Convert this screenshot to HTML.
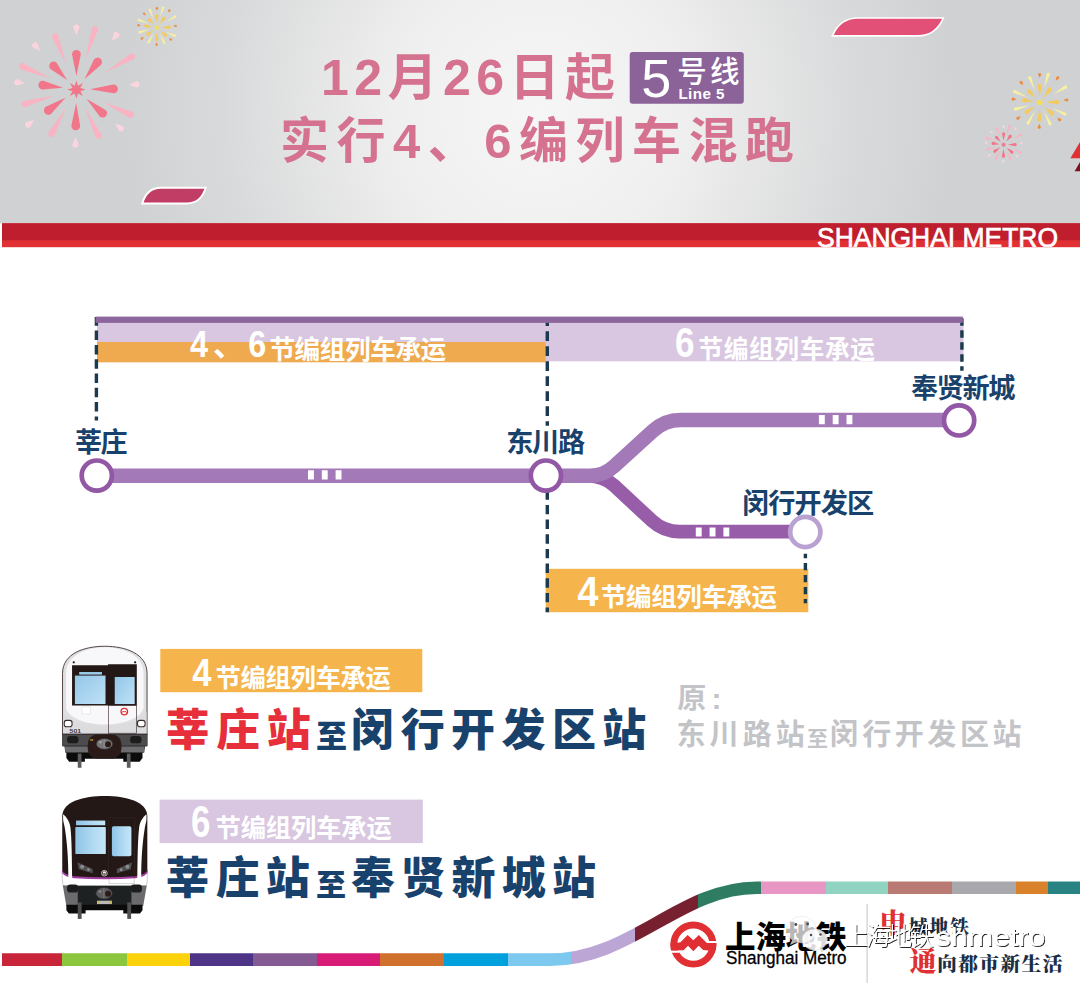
<!DOCTYPE html>
<html lang="zh-CN">
<head>
<meta charset="utf-8">
<title>上海地铁5号线 12月26日起实行4、6编列车混跑</title>
<style>
html,body{margin:0;padding:0;background:#fff;overflow:hidden;}
body{width:1080px;height:984px;overflow:hidden;position:relative;font-family:"Liberation Sans",sans-serif;}
#art{position:absolute;left:0;top:0;width:1080px;height:984px;overflow:hidden;}
#art svg{display:block;}
#art text{font-family:"Liberation Sans",sans-serif;}
#art text.cj{font-family:"Liberation Sans","Noto Sans CJK SC",sans-serif;}
#art text.sf{font-family:"Liberation Serif","Noto Serif CJK SC",serif;}
#tl{position:absolute;left:0;top:0;width:1080px;height:984px;overflow:hidden;}
#tl span{position:absolute;display:block;white-space:nowrap;overflow:hidden;line-height:1.2;color:transparent;font-family:"Liberation Sans",sans-serif;}
</style>
</head>
<body>
<div id="art">
<svg width="1080" height="984" viewBox="0 0 1080 984"><defs><radialGradient id="hdr" gradientUnits="userSpaceOnUse" cx="540" cy="112" r="420"><stop offset="0" stop-color="#f6f6f6"/><stop offset="0.35" stop-color="#efefef"/><stop offset="0.75" stop-color="#d9dadb"/><stop offset="1" stop-color="#d0d1d3"/></radialGradient><clipPath id="cbar"><rect x="0" y="223.3" width="1080" height="24"/></clipPath><linearGradient id="strip" gradientUnits="userSpaceOnUse" x1="0" y1="0" x2="1080" y2="0"><stop offset="0.00185" stop-color="#c8243a"/><stop offset="0.05787" stop-color="#c8243a"/><stop offset="0.05787" stop-color="#8cc63f"/><stop offset="0.11713" stop-color="#8cc63f"/><stop offset="0.11713" stop-color="#fcd20a"/><stop offset="0.17593" stop-color="#fcd20a"/><stop offset="0.17593" stop-color="#4d3487"/><stop offset="0.23472" stop-color="#4d3487"/><stop offset="0.23472" stop-color="#845a93"/><stop offset="0.29352" stop-color="#845a93"/><stop offset="0.29352" stop-color="#d81b77"/><stop offset="0.35231" stop-color="#d81b77"/><stop offset="0.35231" stop-color="#d0702d"/><stop offset="0.41111" stop-color="#d0702d"/><stop offset="0.41111" stop-color="#00a0dc"/><stop offset="0.47037" stop-color="#00a0dc"/><stop offset="0.47037" stop-color="#7dc8ef"/><stop offset="0.52852" stop-color="#7dc8ef"/><stop offset="0.52852" stop-color="#bba6d6"/><stop offset="0.58806" stop-color="#bba6d6"/><stop offset="0.58806" stop-color="#772030"/><stop offset="0.64648" stop-color="#772030"/><stop offset="0.64648" stop-color="#2e7d62"/><stop offset="0.70509" stop-color="#2e7d62"/><stop offset="0.70509" stop-color="#e896c3"/><stop offset="0.76444" stop-color="#e896c3"/><stop offset="0.76444" stop-color="#8fd3c0"/><stop offset="0.82250" stop-color="#8fd3c0"/><stop offset="0.82250" stop-color="#b87a72"/><stop offset="0.88167" stop-color="#b87a72"/><stop offset="0.88167" stop-color="#a9a9ad"/><stop offset="0.94074" stop-color="#a9a9ad"/><stop offset="0.94074" stop-color="#d9822b"/><stop offset="0.97019" stop-color="#d9822b"/><stop offset="0.97019" stop-color="#298383"/><stop offset="1.00000" stop-color="#298383"/></linearGradient><clipPath id="lclip"><circle cx="693.4" cy="944.6" r="23"/></clipPath><filter id="wsh" x="-5%" y="-20%" width="110%" height="150%"><feDropShadow dx="1" dy="1" stdDeviation="0.45" flood-color="#000" flood-opacity="0.85"/></filter><linearGradient id="tb1" x1="0" y1="0" x2="1" y2="0"><stop offset="0" stop-color="#d6d6d9"/><stop offset="0.18" stop-color="#ececee"/><stop offset="0.5" stop-color="#fbfbfc"/><stop offset="0.82" stop-color="#ececee"/><stop offset="1" stop-color="#d6d6d9"/></linearGradient><linearGradient id="win" x1="0" y1="0" x2="1" y2="1"><stop offset="0" stop-color="#93c6e8"/><stop offset="1" stop-color="#bfe2f7"/></linearGradient><linearGradient id="win2" x1="0" y1="0" x2="1" y2="0"><stop offset="0" stop-color="#8fc3e6"/><stop offset="0.45" stop-color="#a9d5f0"/><stop offset="1" stop-color="#c6e6f8"/></linearGradient></defs><rect x="0" y="0" width="1080" height="223.3" fill="url(#hdr)"/>
<rect x="2" y="223.3" width="1078" height="23.9" fill="#e03033"/>
<rect x="2" y="223.3" width="1078" height="17" fill="#be1e2d"/>
<text x="817" y="247.4" font-size="27" fill="#fff" stroke="#fff" stroke-width="0.7" textLength="241" lengthAdjust="spacingAndGlyphs" clip-path="url(#cbar)">SHANGHAI METRO</text>
<path d="M832.4 35.9Q840 18 858 18L943.3 18Q935.7 35.9 917.7 35.9Z" fill="#e25078" stroke="#fff" stroke-width="1.7"/>
<path d="M142.2 203.5Q147 187.8 161 187.8L205.7 187.8Q200.9 203.5 186.9 203.5Z" fill="#c23d65" stroke="#fff" stroke-width="1.9"/>
<path d="M1070.4 158.2L1080 142V158.2Z" fill="#e03033"/><path d="M1074.6 171.2L1080 162V171.2Z" fill="#7a141c"/>
<g transform="translate(76.4 89.6) scale(1.0000)"><polygon points="0,-9.2 1.65,-3.97 6.51,-6.51 3.97,-1.65 9.2,0 3.97,1.65 6.51,6.51 1.65,3.97 0,9.2 -1.65,3.97 -6.51,6.51 -3.97,1.65 -9.2,0 -3.97,-1.65 -6.51,-6.51 -1.65,-3.97" fill="#f2768a"/><g fill="#f2768a"><path d="M13.5 0L35.3 -4.4A4.4 4.4 0 1 1 35.3 4.4Z" transform="rotate(-90)"/><path d="M13.5 0L34.8 -4.4A4.4 4.4 0 1 1 34.8 4.4Z" transform="rotate(-52.5)"/><path d="M13.5 0L37.1 -4.4A4.4 4.4 0 1 1 37.1 4.4Z" transform="rotate(-1)"/><path d="M13.5 0L35.3 -4.4A4.4 4.4 0 1 1 35.3 4.4Z" transform="rotate(42)"/><path d="M13.5 0L36.3 -4.4A4.4 4.4 0 1 1 36.3 4.4Z" transform="rotate(91)"/><path d="M13.5 0L34.9 -4.4A4.4 4.4 0 1 1 34.9 4.4Z" transform="rotate(143.5)"/><path d="M13.5 0L33.9 -4.4A4.4 4.4 0 1 1 33.9 4.4Z" transform="rotate(187.7)"/><path d="M13.5 0L32.8 -4.4A4.4 4.4 0 1 1 32.8 4.4Z" transform="rotate(226)"/></g><g fill="#f9b3c2"><path d="M32 0L62.8 -3.2A3.2 3.2 0 1 1 62.8 3.2Z" transform="rotate(-73)"/><path d="M34 0L64.4 -3.2A3.2 3.2 0 1 1 64.4 3.2Z" transform="rotate(-30.8)"/><path d="M29.3 0L59.7 -3.2A3.2 3.2 0 1 1 59.7 3.2Z" transform="rotate(24.9)"/><path d="M20.5 0L51 -3.2A3.2 3.2 0 1 1 51 3.2Z" transform="rotate(64.4)"/><path d="M21.4 0L50.6 -3.2A3.2 3.2 0 1 1 50.6 3.2Z" transform="rotate(119.5)"/><path d="M23.2 0L53.8 -3.2A3.2 3.2 0 1 1 53.8 3.2Z" transform="rotate(164.5)"/><path d="M27.8 0L58.8 -3.2A3.2 3.2 0 1 1 58.8 3.2Z" transform="rotate(203.2)"/><path d="M27.4 0L57.1 -3.2A3.2 3.2 0 1 1 57.1 3.2Z" transform="rotate(248.2)"/></g><g fill="#fbd4dd"><path d="M54.5 0L61.9 -3.1A3.1 3.1 0 1 1 61.9 3.1Z" transform="rotate(-90)"/><path d="M60.1 0L67.5 -3.1A3.1 3.1 0 1 1 67.5 3.1Z" transform="rotate(-53.8)"/><path d="M52.8 0L60.2 -3.1A3.1 3.1 0 1 1 60.2 3.1Z" transform="rotate(-5)"/><path d="M51.5 0L58.9 -3.1A3.1 3.1 0 1 1 58.9 3.1Z" transform="rotate(41)"/><path d="M47.5 0L54.9 -3.1A3.1 3.1 0 1 1 54.9 3.1Z" transform="rotate(91)"/><path d="M52.2 0L59.6 -3.1A3.1 3.1 0 1 1 59.6 3.1Z" transform="rotate(144)"/><path d="M52 0L59.4 -3.1A3.1 3.1 0 1 1 59.4 3.1Z" transform="rotate(187)"/><path d="M52.9 0L60.3 -3.1A3.1 3.1 0 1 1 60.3 3.1Z" transform="rotate(227)"/></g></g>
<g transform="translate(156.9 27.5) scale(0.3345)"><polygon points="0,-9.2 1.65,-3.97 6.51,-6.51 3.97,-1.65 9.2,0 3.97,1.65 6.51,6.51 1.65,3.97 0,9.2 -1.65,3.97 -6.51,6.51 -3.97,1.65 -9.2,0 -3.97,-1.65 -6.51,-6.51 -1.65,-3.97" fill="#f7df4a"/><g fill="#f2cb60"><path d="M13.5 0L34.64 -5.06A5.06 5.06 0 1 1 34.64 5.06Z" transform="rotate(-90)"/><path d="M13.5 0L34.14 -5.06A5.06 5.06 0 1 1 34.14 5.06Z" transform="rotate(-52.5)"/><path d="M13.5 0L36.44 -5.06A5.06 5.06 0 1 1 36.44 5.06Z" transform="rotate(-1)"/><path d="M13.5 0L34.64 -5.06A5.06 5.06 0 1 1 34.64 5.06Z" transform="rotate(42)"/><path d="M13.5 0L35.64 -5.06A5.06 5.06 0 1 1 35.64 5.06Z" transform="rotate(91)"/><path d="M13.5 0L34.24 -5.06A5.06 5.06 0 1 1 34.24 5.06Z" transform="rotate(143.5)"/><path d="M13.5 0L33.24 -5.06A5.06 5.06 0 1 1 33.24 5.06Z" transform="rotate(187.7)"/><path d="M13.5 0L32.14 -5.06A5.06 5.06 0 1 1 32.14 5.06Z" transform="rotate(226)"/></g><g fill="#f6f0a0"><path d="M32 0L62.32 -3.68A3.68 3.68 0 1 1 62.32 3.68Z" transform="rotate(-73)"/><path d="M34 0L63.92 -3.68A3.68 3.68 0 1 1 63.92 3.68Z" transform="rotate(-30.8)"/><path d="M29.3 0L59.22 -3.68A3.68 3.68 0 1 1 59.22 3.68Z" transform="rotate(24.9)"/><path d="M20.5 0L50.52 -3.68A3.68 3.68 0 1 1 50.52 3.68Z" transform="rotate(64.4)"/><path d="M21.4 0L50.12 -3.68A3.68 3.68 0 1 1 50.12 3.68Z" transform="rotate(119.5)"/><path d="M23.2 0L53.32 -3.68A3.68 3.68 0 1 1 53.32 3.68Z" transform="rotate(164.5)"/><path d="M27.8 0L58.32 -3.68A3.68 3.68 0 1 1 58.32 3.68Z" transform="rotate(203.2)"/><path d="M27.4 0L56.62 -3.68A3.68 3.68 0 1 1 56.62 3.68Z" transform="rotate(248.2)"/></g><g fill="#ee8b3a"><path d="M50.9 0L57.84 -3.56A3.56 3.56 0 1 1 57.84 3.56Z" transform="rotate(-90)"/><path d="M56.16 0L63.1 -3.56A3.56 3.56 0 1 1 63.1 3.56Z" transform="rotate(-53.8)"/><path d="M49.3 0L56.24 -3.56A3.56 3.56 0 1 1 56.24 3.56Z" transform="rotate(-5)"/><path d="M48.08 0L55.02 -3.56A3.56 3.56 0 1 1 55.02 3.56Z" transform="rotate(41)"/><path d="M44.32 0L51.26 -3.56A3.56 3.56 0 1 1 51.26 3.56Z" transform="rotate(91)"/><path d="M48.74 0L55.67 -3.56A3.56 3.56 0 1 1 55.67 3.56Z" transform="rotate(144)"/><path d="M48.55 0L55.48 -3.56A3.56 3.56 0 1 1 55.48 3.56Z" transform="rotate(187)"/><path d="M49.4 0L56.33 -3.56A3.56 3.56 0 1 1 56.33 3.56Z" transform="rotate(227)"/></g></g>
<g transform="translate(1039.7 102.4) scale(0.4690)"><polygon points="0,-9.2 1.65,-3.97 6.51,-6.51 3.97,-1.65 9.2,0 3.97,1.65 6.51,6.51 1.65,3.97 0,9.2 -1.65,3.97 -6.51,6.51 -3.97,1.65 -9.2,0 -3.97,-1.65 -6.51,-6.51 -1.65,-3.97" fill="#f7df4a"/><g fill="#f2cb60"><path d="M13.5 0L34.95 -4.75A4.75 4.75 0 1 1 34.95 4.75Z" transform="rotate(-90)"/><path d="M13.5 0L34.45 -4.75A4.75 4.75 0 1 1 34.45 4.75Z" transform="rotate(-52.5)"/><path d="M13.5 0L36.75 -4.75A4.75 4.75 0 1 1 36.75 4.75Z" transform="rotate(-1)"/><path d="M13.5 0L34.95 -4.75A4.75 4.75 0 1 1 34.95 4.75Z" transform="rotate(42)"/><path d="M13.5 0L35.95 -4.75A4.75 4.75 0 1 1 35.95 4.75Z" transform="rotate(91)"/><path d="M13.5 0L34.55 -4.75A4.75 4.75 0 1 1 34.55 4.75Z" transform="rotate(143.5)"/><path d="M13.5 0L33.55 -4.75A4.75 4.75 0 1 1 33.55 4.75Z" transform="rotate(187.7)"/><path d="M13.5 0L32.45 -4.75A4.75 4.75 0 1 1 32.45 4.75Z" transform="rotate(226)"/></g><g fill="#f6f0a0"><path d="M32 0L62.54 -3.46A3.46 3.46 0 1 1 62.54 3.46Z" transform="rotate(-73)"/><path d="M34 0L64.14 -3.46A3.46 3.46 0 1 1 64.14 3.46Z" transform="rotate(-30.8)"/><path d="M29.3 0L59.44 -3.46A3.46 3.46 0 1 1 59.44 3.46Z" transform="rotate(24.9)"/><path d="M20.5 0L50.74 -3.46A3.46 3.46 0 1 1 50.74 3.46Z" transform="rotate(64.4)"/><path d="M21.4 0L50.34 -3.46A3.46 3.46 0 1 1 50.34 3.46Z" transform="rotate(119.5)"/><path d="M23.2 0L53.54 -3.46A3.46 3.46 0 1 1 53.54 3.46Z" transform="rotate(164.5)"/><path d="M27.8 0L58.54 -3.46A3.46 3.46 0 1 1 58.54 3.46Z" transform="rotate(203.2)"/><path d="M27.4 0L56.84 -3.46A3.46 3.46 0 1 1 56.84 3.46Z" transform="rotate(248.2)"/></g><g fill="#ee8b3a"><path d="M52.4 0L59.55 -3.35A3.35 3.35 0 1 1 59.55 3.35Z" transform="rotate(-90)"/><path d="M57.8 0L64.96 -3.35A3.35 3.35 0 1 1 64.96 3.35Z" transform="rotate(-53.8)"/><path d="M50.76 0L57.91 -3.35A3.35 3.35 0 1 1 57.91 3.35Z" transform="rotate(-5)"/><path d="M49.5 0L56.66 -3.35A3.35 3.35 0 1 1 56.66 3.35Z" transform="rotate(41)"/><path d="M45.64 0L52.8 -3.35A3.35 3.35 0 1 1 52.8 3.35Z" transform="rotate(91)"/><path d="M50.18 0L57.33 -3.35A3.35 3.35 0 1 1 57.33 3.35Z" transform="rotate(144)"/><path d="M49.99 0L57.14 -3.35A3.35 3.35 0 1 1 57.14 3.35Z" transform="rotate(187)"/><path d="M50.86 0L58.01 -3.35A3.35 3.35 0 1 1 58.01 3.35Z" transform="rotate(227)"/></g></g>
<g transform="translate(1003.6 144.8) scale(0.3172)"><polygon points="0,-9.2 1.65,-3.97 6.51,-6.51 3.97,-1.65 9.2,0 3.97,1.65 6.51,6.51 1.65,3.97 0,9.2 -1.65,3.97 -6.51,6.51 -3.97,1.65 -9.2,0 -3.97,-1.65 -6.51,-6.51 -1.65,-3.97" fill="#f2768a"/><g fill="#f2768a"><path d="M13.5 0L34.64 -5.06A5.06 5.06 0 1 1 34.64 5.06Z" transform="rotate(-90)"/><path d="M13.5 0L34.14 -5.06A5.06 5.06 0 1 1 34.14 5.06Z" transform="rotate(-52.5)"/><path d="M13.5 0L36.44 -5.06A5.06 5.06 0 1 1 36.44 5.06Z" transform="rotate(-1)"/><path d="M13.5 0L34.64 -5.06A5.06 5.06 0 1 1 34.64 5.06Z" transform="rotate(42)"/><path d="M13.5 0L35.64 -5.06A5.06 5.06 0 1 1 35.64 5.06Z" transform="rotate(91)"/><path d="M13.5 0L34.24 -5.06A5.06 5.06 0 1 1 34.24 5.06Z" transform="rotate(143.5)"/><path d="M13.5 0L33.24 -5.06A5.06 5.06 0 1 1 33.24 5.06Z" transform="rotate(187.7)"/><path d="M13.5 0L32.14 -5.06A5.06 5.06 0 1 1 32.14 5.06Z" transform="rotate(226)"/></g><g fill="#f9b3c2"><path d="M32 0L62.32 -3.68A3.68 3.68 0 1 1 62.32 3.68Z" transform="rotate(-73)"/><path d="M34 0L63.92 -3.68A3.68 3.68 0 1 1 63.92 3.68Z" transform="rotate(-30.8)"/><path d="M29.3 0L59.22 -3.68A3.68 3.68 0 1 1 59.22 3.68Z" transform="rotate(24.9)"/><path d="M20.5 0L50.52 -3.68A3.68 3.68 0 1 1 50.52 3.68Z" transform="rotate(64.4)"/><path d="M21.4 0L50.12 -3.68A3.68 3.68 0 1 1 50.12 3.68Z" transform="rotate(119.5)"/><path d="M23.2 0L53.32 -3.68A3.68 3.68 0 1 1 53.32 3.68Z" transform="rotate(164.5)"/><path d="M27.8 0L58.32 -3.68A3.68 3.68 0 1 1 58.32 3.68Z" transform="rotate(203.2)"/><path d="M27.4 0L56.62 -3.68A3.68 3.68 0 1 1 56.62 3.68Z" transform="rotate(248.2)"/></g><g fill="#fbd4dd"><path d="M51.5 0L58.44 -3.56A3.56 3.56 0 1 1 58.44 3.56Z" transform="rotate(-90)"/><path d="M56.82 0L63.75 -3.56A3.56 3.56 0 1 1 63.75 3.56Z" transform="rotate(-53.8)"/><path d="M49.88 0L56.82 -3.56A3.56 3.56 0 1 1 56.82 3.56Z" transform="rotate(-5)"/><path d="M48.65 0L55.59 -3.56A3.56 3.56 0 1 1 55.59 3.56Z" transform="rotate(41)"/><path d="M44.85 0L51.78 -3.56A3.56 3.56 0 1 1 51.78 3.56Z" transform="rotate(91)"/><path d="M49.31 0L56.25 -3.56A3.56 3.56 0 1 1 56.25 3.56Z" transform="rotate(144)"/><path d="M49.12 0L56.06 -3.56A3.56 3.56 0 1 1 56.06 3.56Z" transform="rotate(187)"/><path d="M49.98 0L56.91 -3.56A3.56 3.56 0 1 1 56.91 3.56Z" transform="rotate(227)"/></g></g>
<text class="cj" x="321" y="94.5" font-size="50" font-weight="700" fill="#d5728f" textLength="294" lengthAdjust="spacing">12月26日起</text>
<text class="cj" x="280" y="158.1" font-size="49" font-weight="700" fill="#d5728f" textLength="514" lengthAdjust="spacing">实行4、6编列车混跑</text>
<rect x="629.7" y="52.1" width="114.1" height="51.6" rx="3" fill="#8b6399"/>
<text x="641.3" y="96.9" font-size="54" fill="#fff">5</text>
<text class="cj" x="677.2" y="82.3" font-size="29.5" font-weight="500" fill="#fff" textLength="62.4" lengthAdjust="spacing">号线</text>
<text x="678.4" y="98.9" font-size="15.2" font-weight="700" letter-spacing="0.42" fill="#fff">Line 5</text>
<rect x="97" y="322" width="866.5" height="39.3" fill="#d9c6e0"/>
<rect x="97" y="342" width="448.6" height="20.3" fill="#efa94f"/>
<rect x="545.7" y="568.8" width="262.6" height="43.4" fill="#f5b54c"/>
<path d="M96.4 316.9V420.4" stroke="#1b3a50" stroke-width="3.4" stroke-dasharray="9.5 4.8" stroke-dashoffset="0.6" fill="none"/>
<path d="M547.3 316.9V425.8" stroke="#1b3a50" stroke-width="3.4" stroke-dasharray="9.6 5.4" stroke-dashoffset="0.6" fill="none"/>
<path d="M547.3 490.25V612.3" stroke="#1b3a50" stroke-width="3.4" stroke-dasharray="9.4 5.27" stroke-dashoffset="0" fill="none"/>
<path d="M961.9 318.2V370.7" stroke="#1b3a50" stroke-width="3.4" stroke-dasharray="7.6 4.4" stroke-dashoffset="0" fill="none"/>
<path d="M805.4 553.8V603.3" stroke="#1b3a50" stroke-width="3.4" stroke-dasharray="7.4 4.6" stroke-dashoffset="2.9" fill="none"/>
<rect x="95.6" y="316.6" width="867.2" height="6.3" fill="#8c669c"/>
<path d="M588 475.8Q603.6 475.8 613.8 485.3L652 520.8Q663.6 531.6 679.6 531.6H805" fill="none" stroke="#985da8" stroke-width="13.7"/>
<path d="M96 475.8H590Q603.9 475.8 614.1 466.3L652.9 430.9Q664.6 420 680.6 420H959" fill="none" stroke="#a479b7" stroke-width="14.4"/>
<path d="M308 470.3h5.9v9.2h-5.9zm13.8 0h5.9v9.2h-5.9zm13.8 0h5.9v9.2h-5.9z" fill="#fff"/>
<path d="M818.9 415.1h5.9v9.2h-5.9zm13.8 0h5.9v9.2h-5.9zm13.8 0h5.9v9.2h-5.9z" fill="#fff"/>
<path d="M695.8 527.4h5.9v9.2h-5.9zm13.8 0h5.9v9.2h-5.9zm13.8 0h5.9v9.2h-5.9z" fill="#fff"/>
<circle cx="96.8" cy="475.6" r="15.1" fill="#fff" stroke="#9258a6" stroke-width="4.7"/>
<circle cx="545.9" cy="475.6" r="15.1" fill="#fff" stroke="#9258a6" stroke-width="4.7"/>
<circle cx="959.1" cy="420.4" r="15.1" fill="#fff" stroke="#9258a6" stroke-width="4.7"/>
<circle cx="805.3" cy="532" r="15.1" fill="#fff" stroke="#b9a2d2" stroke-width="4.7"/>
<text class="cj" x="75.1" y="451.7" font-size="27.2" font-weight="700" fill="#18426c" textLength="52.5" lengthAdjust="spacing">莘庄</text>
<text class="cj" x="506.2" y="451.7" font-size="27.2" font-weight="700" fill="#18426c" textLength="79" lengthAdjust="spacing">东川路</text>
<text class="cj" x="911.1" y="398.2" font-size="27.2" font-weight="700" fill="#18426c" textLength="104.4" lengthAdjust="spacing">奉贤新城</text>
<text class="cj" x="741.9" y="512.5" font-size="27.2" font-weight="700" fill="#18426c" textLength="132.3" lengthAdjust="spacing">闵行开发区</text>
<text class="cj" x="190" y="357.3" font-size="37" font-weight="700" fill="#fff" textLength="18" lengthAdjust="spacingAndGlyphs">4</text>
<text class="cj" x="213" y="355.8" font-size="31" font-weight="700" fill="#fff">、</text>
<text class="cj" x="248.3" y="356.9" font-size="37" font-weight="700" fill="#fff" textLength="18" lengthAdjust="spacingAndGlyphs">6</text>
<text class="cj" x="269.4" y="358.9" font-size="25.6" font-weight="700" fill="#fff" textLength="176.8" lengthAdjust="spacing">节编组列车承运</text>
<text class="cj" x="675" y="356.6" font-size="42" font-weight="700" fill="#fff" textLength="19.5" lengthAdjust="spacingAndGlyphs">6</text>
<text class="cj" x="698.3" y="358.1" font-size="24.7" font-weight="700" fill="#fff" textLength="176.7" lengthAdjust="spacing">节编组列车承运</text>
<text class="cj" x="577.6" y="606.2" font-size="43" font-weight="700" fill="#fff" textLength="21" lengthAdjust="spacingAndGlyphs">4</text>
<text class="cj" x="601" y="606.4" font-size="25.5" font-weight="700" fill="#fff" textLength="176.1" lengthAdjust="spacing">节编组列车承运</text>
<rect x="160.3" y="648.9" width="262" height="43.3" fill="#f5b54c"/>
<text class="cj" x="192.3" y="685.6" font-size="39.5" font-weight="700" fill="#fff" textLength="19.2" lengthAdjust="spacingAndGlyphs">4</text>
<text class="cj" x="215.5" y="687" font-size="25.3" font-weight="700" fill="#fff" textLength="175.3" lengthAdjust="spacing">节编组列车承运</text>
<text class="cj" x="165.7" y="746.2" font-size="44" font-weight="900" fill="#e62f3b" textLength="145" lengthAdjust="spacing">莘庄站</text>
<text class="cj" x="316.1" y="746.9" font-size="31" font-weight="900" fill="#18426c">至</text>
<text class="cj" x="350.3" y="746.2" font-size="44" font-weight="900" fill="#18426c" textLength="296" lengthAdjust="spacing">闵行开发区站</text>
<text class="cj" x="677.3" y="709.2" font-size="29" font-weight="700" fill="#c3c4c7">原</text>
<text class="cj" x="711.6" y="709" font-size="30" font-weight="700" fill="#c3c4c7">:</text>
<text class="cj" x="676.4" y="745.3" font-size="29" font-weight="700" fill="#c3c4c7" textLength="128.4" lengthAdjust="spacing">东川路站</text>
<text class="cj" x="806.9" y="745.9" font-size="21" font-weight="700" fill="#c3c4c7">至</text>
<text class="cj" x="829.6" y="745.3" font-size="29" font-weight="700" fill="#c3c4c7" textLength="191.9" lengthAdjust="spacing">闵行开发区站</text>
<rect x="159.6" y="799.6" width="263.2" height="43.5" fill="#d9c6e0"/>
<text class="cj" x="191" y="837" font-size="44" font-weight="700" fill="#fff" textLength="19.4" lengthAdjust="spacingAndGlyphs">6</text>
<text class="cj" x="215.5" y="837.1" font-size="25.3" font-weight="700" fill="#fff" textLength="176.2" lengthAdjust="spacing">节编组列车承运</text>
<text class="cj" x="165.6" y="894.3" font-size="44" font-weight="900" fill="#18426c" textLength="144.2" lengthAdjust="spacing">莘庄站</text>
<text class="cj" x="316.1" y="895" font-size="30" font-weight="900" fill="#18426c">至</text>
<text class="cj" x="351" y="894.3" font-size="44" font-weight="900" fill="#18426c" textLength="245" lengthAdjust="spacing">奉贤新城站</text>
<path d="M2 959.6H550.5C631 959.6 680.7 887.7 756.7 887.7H1081" fill="none" stroke="url(#strip)" stroke-width="12.6"/>
<circle cx="693.4" cy="944.6" r="19.6" fill="none" stroke="#e03033" stroke-width="6.8"/>
<path d="M669.76 942.86L678.05 942.86L680.49 942.37L687.64 934.89L693.33 940.34L698.86 934.89L706.83 943.02L716.91 943.02L716.91 950.5L707.97 950.5L703.09 950.02L698.7 945.87L693.33 951.32L688.05 945.87L683.58 950.18L669.76 950.5Z" fill="#e03033" clip-path="url(#lclip)"/>
<path d="M669.76 950.67L679.35 950.67L679.35 952.78L669.76 952.78Z" fill="#fff"/>
<path d="M708.62 940.99L717.32 940.99L717.32 943.02L708.62 943.02Z" fill="#fff"/>
<text class="cj" x="725.1" y="947.7" font-size="30.5" font-weight="900" fill="#000" textLength="121.5" lengthAdjust="spacing">上海地铁</text>
<text x="726" y="963.9" font-size="17.8" fill="#000" stroke="#000" stroke-width="0.3" textLength="120.6" lengthAdjust="spacingAndGlyphs">Shanghai Metro</text>
<path d="M867.1 903.8V983" stroke="#c4c4c4" stroke-width="1" fill="none"/>
<text class="sf" x="879.3" y="933.4" font-size="27.5" font-weight="900" fill="#e03033">申</text>
<text class="sf" x="908.7" y="934.3" font-size="18.8" font-weight="900" fill="#1a2e44" textLength="60.4" lengthAdjust="spacing">城地铁</text>
<text class="sf" x="909.4" y="971.3" font-size="27.5" font-weight="900" fill="#e03033">通</text>
<text class="sf" x="937.1" y="970.8" font-size="19.8" font-weight="900" fill="#1a2e44" textLength="125.4" lengthAdjust="spacing">向都市新生活</text>
<g opacity="0.72"><ellipse cx="801.4" cy="929.6" rx="14.7" ry="13.3" fill="#fff" stroke="#dcdcdc" stroke-width="0.6"/><path d="M792.5 939.5l-2.6 5.6 6.8-3.2z" fill="#fff"/></g><g opacity="0.86"><ellipse cx="814.8" cy="939.6" rx="12.6" ry="10.6" fill="#fff" stroke="#d4d4d4" stroke-width="0.6"/><path d="M822 948l3.4 4.4-7.4-1.7z" fill="#fff"/></g><g fill="#4a4a4a"><circle cx="795.8" cy="924.5" r="1.4"/><circle cx="807.6" cy="924" r="1.4"/><circle cx="811" cy="935" r="1.25"/><circle cx="820.5" cy="934.5" r="1.25"/></g>
<text class="cj" x="844" y="945.2" font-size="25" font-weight="300" fill="#fff" filter="url(#wsh)" textLength="89.9" lengthAdjust="spacing">上海地铁</text>
<text class="cj" x="935.6" y="945.8" font-size="25.3" font-weight="400" fill="#fff" filter="url(#wsh)" textLength="109.8" lengthAdjust="spacingAndGlyphs">shmetro</text>
<g transform="translate(50 640) scale(0.14231)"><path d="M88 745V235C88 95 240 44 385 44S682 95 682 235V745Z" fill="#dfdfe2" stroke="#4a3a38" stroke-width="6.5"/><path d="M113 480V235C113 112 250 51 385 51S657 112 657 235V480C640 548 520 594 385 594S130 548 113 480Z" fill="#f8f8fa"/><path d="M92 500V660H678V500C660 570 520 600 385 600S110 570 92 500Z" fill="#dcdcdf"/><path d="M155 178H408V171H610V460H155Z" fill="#231815"/><rect x="175" y="250" width="215" height="200" fill="url(#win)"/><rect x="205" y="225" width="160" height="18" fill="#9ccbea"/><rect x="455" y="260" width="140" height="190" fill="url(#win)"/><rect x="410" y="460" width="197" height="195" fill="none" stroke="#3a2c2a" stroke-width="4.5"/><rect x="225" y="470" width="60" height="50" fill="#fff" stroke="#cfcfd2" stroke-width="3"/><circle cx="522" cy="503" r="23" fill="#fff" stroke="#e03033" stroke-width="9"/><path d="M499 510h8l8-11 7 8 7-8 8 11h8" fill="none" stroke="#e03033" stroke-width="7"/><rect x="100" y="565" width="55" height="45" rx="16" fill="#fff" stroke="#3a2c2a" stroke-width="7.5"/><rect x="615" y="565" width="53" height="45" rx="16" fill="#fff" stroke="#3a2c2a" stroke-width="7.5"/><circle cx="167" cy="157" r="8" fill="#231815"/><circle cx="598" cy="157" r="8" fill="#231815"/><rect x="86" y="660" width="598" height="85" fill="#4c4c4f"/><rect x="86" y="658" width="598" height="9" fill="#3a3132"/><path d="M86 700H270M500 700H684" stroke="#5a4a48" stroke-width="3.5"/><rect x="120" y="674" width="80" height="52" rx="22" fill="#1c1c1c"/><rect x="563" y="674" width="80" height="52" rx="22" fill="#1c1c1c"/><path d="M100 738H670L662 792H108Z" fill="#3c3c3f"/><path d="M104 750H664L658 792H110Z" fill="#6c6c6f"/><path d="M115 790H650V830L630 855H515V835H245V855H135L115 830Z" fill="#0b0b0b"/><rect x="195" y="798" width="26" height="100" fill="#5d5d60"/><rect x="540" y="798" width="26" height="100" fill="#5d5d60"/><rect x="265" y="664" width="237" height="168" rx="66" fill="#2a1b19"/><ellipse cx="383" cy="730" rx="58" ry="38" fill="#77777a" stroke="#2f2f31" stroke-width="5"/><circle cx="408" cy="733" r="21" fill="#2a1b19"/><path d="M340 712h28l-14 18z" fill="#a5a5a8"/><rect x="376" y="700" width="9" height="60" fill="#8c8c8f"/><rect x="282" y="698" width="22" height="9" fill="#c9a227"/></g>
<text x="69.6" y="732.84" font-size="6.08" font-weight="700" fill="#3a3a3c" textLength="11.5" lengthAdjust="spacingAndGlyphs">501</text>
<g transform="translate(50 780) scale(0.14231)"><path d="M85 640C85 700 90 745 96 745H674C680 745 685 700 685 640Z" fill="#fff" stroke="#8a8a8d" stroke-width="3"/><path d="M90 742H680L655 885H115Z" fill="#6b6b6e"/><path d="M86 640V255C86 150 240 112 385 112S684 150 684 255V640C684 655 640 678 600 684Q385 700 170 684C130 678 86 655 86 640Z" fill="#231815"/><path d="M84 625C84 650 128 670 168 676Q385 692 602 676C642 670 686 650 686 625V645C686 668 642 686 602 690Q385 706 168 690C128 686 84 668 84 645Z" fill="#a23da0"/><path d="M92 241C120 262 139 298 143 331C151 400 154 500 156 700L129 700C129 560 122 450 104 338C99 306 92 290 92 272Z" fill="#fff"/><path d="M678 241 C650 262 631 298 627 331 C619 400 616 500 614 700 L641 700 C641 560 648 450 666 338 C671 306 678 290 678 272 Z" fill="#fff"/><rect x="178" y="330" width="214" height="190" rx="6" fill="url(#win2)"/><rect x="183" y="285" width="205" height="33" fill="url(#win2)"/><rect x="435" y="325" width="137" height="210" rx="12" fill="url(#win2)"/><path d="M412 690V265H595V690" fill="none" stroke="#3b2f2d" stroke-width="3"/><path d="M415 695V728H592V695" fill="none" stroke="#9a9a9d" stroke-width="3"/><path d="M193 578L300 626V656L203 628Z" fill="#505053"/><circle cx="226" cy="610" r="14" fill="#8c8c90"/><circle cx="270" cy="631" r="10" fill="#8c8c90"/><path d="M577 578L470 626V656L567 628Z" fill="#505053"/><circle cx="544" cy="610" r="14" fill="#8c8c90"/><circle cx="500" cy="631" r="10" fill="#8c8c90"/><circle cx="382" cy="655" r="20" fill="#2a1f1d" stroke="#f2f2f2" stroke-width="5"/><path d="M371 664v-12a11 10 0 0 1 22 0v12z" fill="#f2f2f2"/><rect x="375" y="655" width="14" height="5" fill="#2a1f1d"/><rect x="120" y="734" width="78" height="57" rx="22" fill="#1d1d1e"/><rect x="568" y="734" width="78" height="57" rx="22" fill="#1d1d1e"/><rect x="195" y="745" width="377" height="140" fill="#1e2122"/><ellipse cx="380" cy="796" rx="58" ry="41" fill="#5c5c5f" stroke="#2c2c2e" stroke-width="5"/><circle cx="408" cy="799" r="21" fill="#2a1b19"/><path d="M338 778h28l-14 18z" fill="#8e8e91"/><rect x="374" y="762" width="8" height="66" fill="#77777a"/><rect x="330" y="848" width="105" height="24" fill="#b9b9bc"/><rect x="334" y="853" width="18" height="13" fill="#d9b43a"/><rect x="413" y="853" width="18" height="13" fill="#d9b43a"/><path d="M115 876H650V915L632 938H515V915H250V938H133L115 915Z" fill="#0b0b0b"/><rect x="195" y="860" width="27" height="116" fill="#505053"/><rect x="543" y="860" width="27" height="116" fill="#505053"/></g></svg>
</div>
<div id="tl">
<span style="left:322px;top:50.38px;width:293px;height:51.23px;font-size:42.69px;font-weight:700">12月26日起</span>
<span style="left:284px;top:113.4px;width:508px;height:55.2px;font-size:46px;font-weight:700">实行4、6编列车混跑</span>
<span style="left:679px;top:55.3px;width:60px;height:32.4px;font-size:27px;font-weight:400">号线</span>
<span style="left:76.5px;top:427.58px;width:49.9px;height:29.04px;font-size:24.2px;font-weight:700">莘庄</span>
<span style="left:507.8px;top:426.9px;width:77px;height:30px;font-size:25px;font-weight:700">东川路</span>
<span style="left:911.7px;top:373.09px;width:103.3px;height:30.12px;font-size:25.1px;font-weight:700">奉贤新城</span>
<span style="left:744.1px;top:486.72px;width:128.9px;height:30.96px;font-size:25.8px;font-weight:700">闵行开发区</span>
<span style="left:190px;top:330.33px;width:256px;height:31.33px;font-size:26.11px;font-weight:700">4、6节编组列车承运</span>
<span style="left:676px;top:329.2px;width:200px;height:30.6px;font-size:25.5px;font-weight:700">6节编组列车承运</span>
<span style="left:578px;top:577.2px;width:200px;height:30.6px;font-size:25.5px;font-weight:700">4节编组列车承运</span>
<span style="left:192px;top:659.78px;width:199px;height:30.45px;font-size:25.37px;font-weight:700">4节编组列车承运</span>
<span style="left:168px;top:704.9px;width:478px;height:49.2px;font-size:41px;font-weight:900">莘庄站至闵行开发区站</span>
<span style="left:678px;top:686.15px;width:42px;height:25.7px;font-size:21.42px;font-weight:700">原:</span>
<span style="left:678px;top:720.4px;width:343px;height:31.2px;font-size:26px;font-weight:700">东川路站至闵行开发区站</span>
<span style="left:193px;top:809.85px;width:198px;height:30.29px;font-size:25.25px;font-weight:700">6节编组列车承运</span>
<span style="left:168px;top:851.8px;width:428px;height:50.4px;font-size:42px;font-weight:900">莘庄站至奉贤新城站</span>
<span style="left:726px;top:920.3px;width:120px;height:32.4px;font-size:27px;font-weight:900">上海地铁</span>
<span style="left:882px;top:910.69px;width:87px;height:26.62px;font-size:22.18px;font-weight:900">申城地铁</span>
<span style="left:910px;top:948.21px;width:152px;height:26.58px;font-size:22.15px;font-weight:900">通向都市新生活</span>
<span style="left:845px;top:924.98px;width:198px;height:22.03px;font-size:18.36px;font-weight:300">上海地铁shmetro</span>
<span style="left:69.8px;top:728.49px;width:11.1px;height:4.53px;font-size:3.77px;font-weight:700">501</span>
</div>
</body>
</html>
